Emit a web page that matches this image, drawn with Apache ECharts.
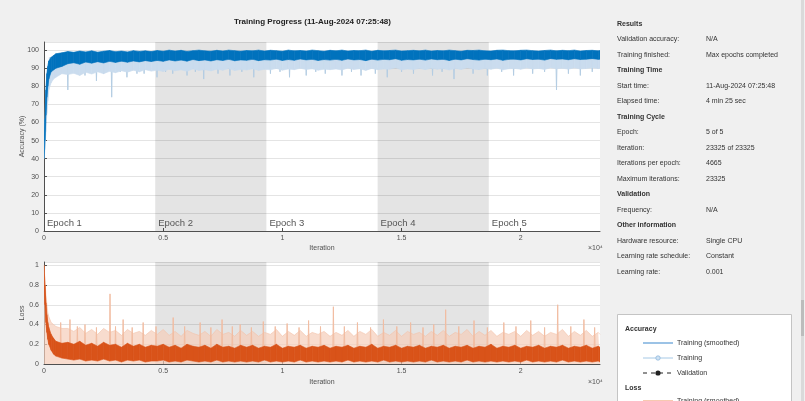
<!DOCTYPE html>
<html>
<head>
<meta charset="utf-8">
<script src="https://cdn.jsdelivr.net/npm/echarts@6/dist/echarts.min.js"></script>
<style>
  html, body { margin: 0; padding: 0; background: #f0f0f0; }
  #chart { width: 805px; height: 401px; }
</style>
</head>
<body>
<div id="chart"></div>
<script>
// ---- data ----
const maxIter = 23325
const epochStarts = [0, 4665, 9330, 13995, 18660]
const epochNames = ['Epoch 1', 'Epoch 2', 'Epoch 3', 'Epoch 4', 'Epoch 5']

// sample iterations: warm-up points, then every 250 iterations
const warmIter = [0, 40, 80, 120, 160, 200, 300, 400, 500, 750]

// accuracy (%): smoothed band (dark blue) and raw training lower envelope (light blue)
const accSmoothHi = [42, 62, 78, 87, 91, 94, 96, 97, 98, 98.5,
  99.2, 98.8, 99.5, 99.0, 99.6, 98.9, 99.4, 99.8, 99.1, 99.5, 99.0, 99.7, 99.3, 99.6, 99.2,
  99.8, 99.4, 100, 99.5, 99.9, 99.3, 99.7, 100, 99.6, 99.4, 99.9, 99.5, 100, 99.7, 99.4,
  99.8, 99.6, 100, 99.5, 99.9, 99.7, 99.4, 100, 99.6, 99.8, 99.5, 100, 99.7, 99.4, 99.9,
  99.6, 100, 99.5, 99.8, 99.7, 100, 99.4, 99.9, 99.6, 99.8, 100, 99.5, 99.7, 99.9, 99.6,
  100, 99.5, 99.8, 99.6, 100, 99.7, 99.4, 99.9, 99.8, 100, 99.6, 99.5, 99.9, 100, 99.7,
  99.6, 99.9, 100, 99.7, 99.5, 99.8, 100, 99.6, 99.9, 99.7, 100, 99.5, 99.8, 99.9, 99.6,
  99.8]
const accSmoothLo = [40, 50, 64, 74, 80, 84, 88, 89, 90, 91,
  92.5, 93.0, 92.2, 93.4, 92.8, 93.6, 92.9, 93.8, 93.2, 93.9, 93.3, 94.0, 93.5, 94.2, 93.7,
  94.3, 93.8, 94.6, 94.0, 94.5, 93.9, 94.8, 94.2, 94.6, 94.0, 94.7, 94.3, 94.9, 94.1, 94.6,
  94.4, 94.9, 94.2, 94.7, 94.5, 95.0, 94.3, 94.8, 94.4, 95.1, 94.6, 94.9, 94.3, 94.8, 94.5,
  94.9, 94.4, 95.1, 94.6, 94.8, 94.2, 95.0, 94.5, 94.9, 94.7, 95.2, 94.4, 94.8, 94.6, 95.0,
  94.5, 95.1, 94.7, 94.9, 94.3, 95.0, 94.6, 95.2, 94.8, 94.5, 95.0, 94.7, 95.1, 94.4, 94.9,
  95.0, 94.6, 95.2, 94.8, 95.0, 94.5, 95.3, 94.9, 95.1, 94.7, 95.2, 94.8, 95.0, 95.3, 94.9,
  95.0]
const accRawLo = [40, 45, 55, 65, 72, 78, 82, 84, 85, 87,
  86.5, 87.2, 86.0, 87.8, 86.8, 88.0, 87.0, 88.3, 87.5, 88.6, 87.8, 88.9, 88.0, 89.2, 88.4,
  88.9, 88.2, 89.4, 88.6, 89.1, 88.3, 89.6, 88.8, 89.2, 88.5, 89.5, 88.9, 89.8, 88.7, 89.3,
  89.0, 89.7, 88.8, 89.4, 89.1, 89.9, 88.9, 89.6, 89.2, 90.0, 89.3, 89.7, 88.9, 89.5, 89.2,
  89.6, 89.0, 90.1, 89.3, 89.7, 88.8, 89.9, 89.2, 89.6, 89.4, 90.2, 89.1, 89.6, 89.3, 89.9,
  89.2, 90.0, 89.4, 89.8, 89.0, 89.9, 89.3, 90.2, 89.6, 89.2, 89.9, 89.4, 90.1, 89.1, 89.7,
  89.9, 89.4, 90.2, 89.6, 89.9, 89.3, 90.3, 89.7, 90.0, 89.5, 90.2, 89.6, 89.9, 90.3, 89.8,
  90.0]
// downward streaks of the raw accuracy: [iteration, accuracy]
const accDips = [[250, 84], [600, 88], [1000, 78], [1400, 87], [1720, 86], [2200, 83], [2500, 87],
  [2840, 74], [3200, 88], [3480, 85], [3900, 87], [4200, 87], [4740, 85], [5100, 88], [5400, 87],
  [6000, 86], [6350, 88], [6700, 84], [7300, 87], [7800, 86], [8300, 88], [8800, 85], [9500, 87],
  [9900, 88], [10300, 85], [11000, 86], [11400, 88], [11800, 87], [12500, 86], [12900, 88],
  [13300, 86], [13900, 87], [14400, 85], [15000, 88], [15500, 87], [16300, 86], [16700, 88],
  [17200, 84], [18000, 87], [18600, 86], [19200, 88], [19700, 86], [20500, 87], [21000, 88],
  [21500, 78], [22000, 87], [22500, 86], [23000, 88]]

// loss: smoothed band (dark orange) and raw training upper envelope (light orange)
const lossSmoothHi = [1.0, 0.80, 0.62, 0.50, 0.42, 0.37, 0.30, 0.26, 0.23, 0.21,
  0.22, 0.20, 0.23, 0.19, 0.21, 0.18, 0.22, 0.19, 0.20, 0.17, 0.21, 0.18, 0.20, 0.17, 0.19,
  0.18, 0.20, 0.17, 0.19, 0.16, 0.20, 0.18, 0.17, 0.19, 0.16, 0.20, 0.17, 0.18, 0.16, 0.19,
  0.17, 0.19, 0.16, 0.18, 0.17, 0.20, 0.16, 0.18, 0.17, 0.19, 0.16, 0.18, 0.17, 0.19, 0.16,
  0.18, 0.17, 0.19, 0.16, 0.18, 0.17, 0.20, 0.16, 0.18, 0.17, 0.19, 0.16, 0.18, 0.17, 0.19,
  0.16, 0.18, 0.17, 0.19, 0.16, 0.18, 0.17, 0.19, 0.16, 0.18, 0.17, 0.20, 0.16, 0.18, 0.17,
  0.19, 0.16, 0.18, 0.17, 0.19, 0.16, 0.18, 0.17, 0.19, 0.16, 0.18, 0.17, 0.19, 0.16, 0.18,
  0.17]
const lossSmoothLo = [0.95, 0.60, 0.42, 0.32, 0.25, 0.20, 0.14, 0.10, 0.08, 0.06,
  0.05, 0.04, 0.05, 0.03, 0.04, 0.03, 0.05, 0.03, 0.04, 0.02, 0.04, 0.03, 0.04, 0.02, 0.03,
  0.03, 0.04, 0.02, 0.03, 0.02, 0.04, 0.03, 0.02, 0.03, 0.02, 0.04, 0.02, 0.03, 0.02, 0.03,
  0.02, 0.03, 0.02, 0.04, 0.02, 0.03, 0.02, 0.03, 0.02, 0.04, 0.02, 0.03, 0.02, 0.03, 0.02,
  0.03, 0.02, 0.04, 0.02, 0.03, 0.02, 0.03, 0.02, 0.04, 0.02, 0.03, 0.02, 0.03, 0.02, 0.03,
  0.02, 0.04, 0.02, 0.03, 0.02, 0.03, 0.02, 0.04, 0.02, 0.03, 0.02, 0.03, 0.02, 0.03, 0.02,
  0.03, 0.02, 0.04, 0.02, 0.03, 0.02, 0.03, 0.02, 0.04, 0.02, 0.03, 0.02, 0.03, 0.02, 0.03,
  0.02]
const lossRawHi = [1.0, 0.85, 0.70, 0.60, 0.52, 0.48, 0.42, 0.40, 0.38, 0.36,
  0.36, 0.33, 0.37, 0.31, 0.35, 0.30, 0.36, 0.32, 0.34, 0.29, 0.35, 0.31, 0.33, 0.29, 0.34,
  0.30, 0.35, 0.29, 0.33, 0.28, 0.34, 0.31, 0.29, 0.33, 0.28, 0.35, 0.30, 0.32, 0.28, 0.34,
  0.29, 0.33, 0.28, 0.32, 0.30, 0.35, 0.28, 0.33, 0.29, 0.34, 0.28, 0.32, 0.30, 0.33, 0.28,
  0.32, 0.29, 0.34, 0.28, 0.33, 0.30, 0.35, 0.28, 0.32, 0.29, 0.34, 0.28, 0.33, 0.30, 0.32,
  0.28, 0.33, 0.29, 0.34, 0.28, 0.32, 0.30, 0.35, 0.28, 0.33, 0.29, 0.34, 0.28, 0.32, 0.30,
  0.33, 0.28, 0.34, 0.29, 0.33, 0.28, 0.32, 0.30, 0.35, 0.28, 0.33, 0.29, 0.34, 0.28, 0.32,
  0.30]
// upward streaks of the raw loss: [iteration, loss]
const lossPeaks = [[700, 0.42], [1090, 0.45], [1400, 0.38], [1720, 0.40], [2200, 0.37], [2770, 0.71],
  [3000, 0.38], [3320, 0.45], [3700, 0.37], [4160, 0.42], [4700, 0.38], [5420, 0.47], [5900, 0.38],
  [6550, 0.42], [7000, 0.37], [7470, 0.45], [7900, 0.38], [8230, 0.40], [8700, 0.37], [9200, 0.43],
  [9700, 0.38], [10200, 0.41], [10700, 0.37], [11100, 0.44], [11600, 0.38], [12140, 0.58],
  [12600, 0.38], [13150, 0.42], [13700, 0.37], [14240, 0.45], [14800, 0.38], [15380, 0.42],
  [15900, 0.37], [16350, 0.40], [16850, 0.55], [17400, 0.38], [18040, 0.44], [18600, 0.37],
  [19290, 0.42], [19800, 0.38], [20420, 0.44], [21000, 0.37], [21550, 0.60], [22100, 0.38],
  [22650, 0.45], [23100, 0.37]]

const infoRows = [
  ['Results', null],
  ['Validation accuracy:', 'N/A'],
  ['Training finished:', 'Max epochs completed'],
  ['Training Time', null],
  ['Start time:', '11-Aug-2024 07:25:48'],
  ['Elapsed time:', '4 min 25 sec'],
  ['Training Cycle', null],
  ['Epoch:', '5 of 5'],
  ['Iteration:', '23325 of 23325'],
  ['Iterations per epoch:', '4665'],
  ['Maximum iterations:', '23325'],
  ['Validation', null],
  ['Frequency:', 'N/A'],
  ['Other information', null],
  ['Hardware resource:', 'Single CPU'],
  ['Learning rate schedule:', 'Constant'],
  ['Learning rate:', '0.001'],
]

// ---- build ----
const iters = warmIter.slice()
for (let it = 1000; it <= 23250; it += 250) iters.push(it)
iters.push(maxIter)

const pairs = (ys) => iters.map((x, i) => [x, ys[i]])

// one quad per pair of neighbouring samples: [x0, lo0, hi0, x1, lo1, hi1]
function bandData(lo, hi) {
  const out = []
  for (let i = 0; i < iters.length - 1; i++) {
    out.push([iters[i], lo[i], hi[i], iters[i + 1], lo[i + 1], hi[i + 1]])
  }
  return out
}

function streaks(list, base) {
  const out = []
  list.forEach(([x, v]) => { out.push([x - 25, base], [x, v], [x + 25, base]) })
  return out
}

const FONT = '"Liberation Sans", Arial, sans-serif'
const AX = '#505050'
const SHADE = 'rgba(0,0,0,0.105)'

function epochAreas(withLabels) {
  return epochStarts.map((s, i) => [
    {
      xAxis: s,
      name: epochNames[i],
      itemStyle: { color: i % 2 ? SHADE : 'rgba(0,0,0,0)' },
      label: withLabels
        ? { show: true, position: 'insideBottomLeft', distance: 3, color: '#555', fontSize: 9.5, fontFamily: FONT }
        : { show: false },
    },
    { xAxis: i < epochStarts.length - 1 ? epochStarts[i + 1] : maxIter },
  ])
}

function xAxisOf(grid, gap) {
  return {
    type: 'value', gridIndex: grid, min: 0, max: maxIter, interval: 5000,
    axisLine: { show: true, onZero: false, lineStyle: { color: AX, width: 1 } },
    axisTick: { show: true, inside: true, length: 3, lineStyle: { color: AX } },
    axisLabel: { fontSize: 7, color: AX, margin: 4, fontFamily: FONT, showMaxLabel: false,
      formatter: (v) => String(v / 10000) },
    splitLine: { show: false },
    name: 'Iteration', nameLocation: 'middle', nameGap: gap, nameMoveOverlap: false,
    nameTextStyle: { fontSize: 7, color: AX, fontFamily: FONT },
  }
}

function yAxisOf(grid, max, interval, name) {
  return {
    type: 'value', gridIndex: grid, min: 0, max: max, interval: interval,
    axisLine: { show: true, lineStyle: { color: AX, width: 1 } },
    axisTick: { show: true, inside: true, length: 3, lineStyle: { color: AX } },
    axisLabel: { fontSize: 7, color: AX, margin: 5, fontFamily: FONT, showMaxLabel: false },
    splitLine: { show: true, lineStyle: { color: '#e4e4e4', width: 1 } },
    name: name, nameLocation: 'middle', nameGap: 18, nameRotate: 90, nameMoveOverlap: false,
    nameTextStyle: { fontSize: 7, color: AX, fontFamily: FONT },
  }
}

function band(name, axis, lo, hi, color, z) {
  return {
    name, type: 'custom', xAxisIndex: axis, yAxisIndex: axis, z, silent: true, clip: true,
    encode: { x: [0, 3], y: [1, 2, 4, 5] },
    data: bandData(lo, hi),
    renderItem: (params, api) => {
      const a = api.coord([api.value(0), api.value(1)])
      const b = api.coord([api.value(3), api.value(4)])
      const c = api.coord([api.value(3), api.value(5)])
      const d = api.coord([api.value(0), api.value(2)])
      return {
        type: 'polygon',
        shape: { points: [a, b, c, d] },
        style: { fill: color, stroke: color, lineWidth: 0.6 },
      }
    },
  }
}

const series = [
  // accuracy
  {
    name: 'Training', type: 'line', xAxisIndex: 0, yAxisIndex: 0, z: 2,
    data: streaks(accDips, 96), symbol: 'none', silent: true,
    lineStyle: { color: '#b4cde3', width: 1 },
    markArea: { silent: true, data: epochAreas(true) },
  },
  band('accRaw', 0, accRawLo, accSmoothHi, '#cadcee', 3),
  band('Training (smoothed)', 0, accSmoothLo, accSmoothHi, '#0072BD', 4),
  // loss
  {
    name: 'lossRaw', type: 'line', xAxisIndex: 1, yAxisIndex: 1, z: 2,
    data: pairs(lossRawHi), symbol: 'none', silent: true,
    lineStyle: { color: '#f3c1a8', width: 0.6 },
    areaStyle: { color: '#f5cdb9', opacity: 0.7 },
    markArea: { silent: true, data: epochAreas(false) },
  },
  {
    name: 'lossPeaks', type: 'line', xAxisIndex: 1, yAxisIndex: 1, z: 2,
    data: streaks(lossPeaks, 0.1), symbol: 'none', silent: true,
    lineStyle: { color: '#f2bda2', width: 1 },
  },
  band('Loss (smoothed)', 1, lossSmoothLo, lossSmoothHi, '#D95319', 4),
]

// right-hand info panel and legend box
const graphics = []
infoRows.forEach(([label, value], i) => {
  const y = 24 + i * 15.5
  graphics.push({
    type: 'text', x: 617, y: y,
    style: { text: label, fontSize: 7, fontWeight: value === null ? 'bold' : 'normal',
      fill: '#333', fontFamily: FONT, verticalAlign: 'middle' },
  })
  if (value !== null) {
    graphics.push({
      type: 'text', x: 706, y: y,
      style: { text: value, fontSize: 7, fill: '#333', fontFamily: FONT, verticalAlign: 'middle' },
    })
  }
})

graphics.push(
  { type: 'rect', shape: { x: 801, y: 0, width: 3, height: 401 }, style: { fill: '#dadada' } },
  { type: 'rect', shape: { x: 801, y: 300, width: 3, height: 36 }, style: { fill: '#bcbcbc' } },
  { type: 'rect', shape: { x: 617.5, y: 314.5, width: 174, height: 100 },
    style: { fill: '#fff', stroke: '#c4c4c4', lineWidth: 1 } },
  { type: 'text', x: 625, y: 329, style: { text: 'Accuracy', fontSize: 7, fontWeight: 'bold', fill: '#333', fontFamily: FONT, verticalAlign: 'middle' } },
  { type: 'line', shape: { x1: 643, y1: 343, x2: 673, y2: 343 }, style: { stroke: '#5b9bd5', lineWidth: 1.2 } },
  { type: 'text', x: 677, y: 343, style: { text: 'Training (smoothed)', fontSize: 7, fill: '#333', fontFamily: FONT, verticalAlign: 'middle' } },
  { type: 'line', shape: { x1: 643, y1: 358, x2: 673, y2: 358 }, style: { stroke: '#a6c9e6', lineWidth: 1 } },
  { type: 'circle', shape: { cx: 658, cy: 358, r: 2.2 }, style: { fill: '#cfe2f3', stroke: '#8fb7dc', lineWidth: 0.8 } },
  { type: 'text', x: 677, y: 358, style: { text: 'Training', fontSize: 7, fill: '#333', fontFamily: FONT, verticalAlign: 'middle' } },
  { type: 'line', shape: { x1: 643, y1: 373, x2: 673, y2: 373 }, style: { stroke: '#222', lineWidth: 1, lineDash: [4, 4] } },
  { type: 'circle', shape: { cx: 658, cy: 373, r: 2.6 }, style: { fill: '#222' } },
  { type: 'text', x: 677, y: 373, style: { text: 'Validation', fontSize: 7, fill: '#333', fontFamily: FONT, verticalAlign: 'middle' } },
  { type: 'text', x: 625, y: 388, style: { text: 'Loss', fontSize: 7, fontWeight: 'bold', fill: '#333', fontFamily: FONT, verticalAlign: 'middle' } },
  { type: 'line', shape: { x1: 643, y1: 401, x2: 673, y2: 401 }, style: { stroke: '#f2a57c', lineWidth: 1.2 } },
  { type: 'text', x: 677, y: 401, style: { text: 'Training (smoothed)', fontSize: 7, fill: '#333', fontFamily: FONT, verticalAlign: 'middle' } },
  { type: 'text', x: 588, y: 248, style: { text: '×10⁴', fontSize: 7, fill: AX, fontFamily: FONT, verticalAlign: 'middle' } },
  { type: 'text', x: 588, y: 382, style: { text: '×10⁴', fontSize: 7, fill: AX, fontFamily: FONT, verticalAlign: 'middle' } },
)

const chart = echarts.init(document.getElementById('chart'), null, { renderer: 'canvas' })
chart.setOption({
  backgroundColor: '#f0f0f0',
  animation: false,
  title: {
    text: 'Training Progress (11-Aug-2024 07:25:48)',
    left: 229, top: 13,
    textStyle: { fontSize: 8, fontWeight: 'bold', color: '#222', fontFamily: FONT },
  },
  grid: [
    { left: 44, top: 42, width: 556, height: 189, show: true, backgroundColor: '#fff', borderWidth: 0, outerBoundsMode: 'none' },
    { left: 44, top: 262, width: 556, height: 102, show: true, backgroundColor: '#fff', borderWidth: 0, outerBoundsMode: 'none' },
  ],
  xAxis: [xAxisOf(0, 14), xAxisOf(1, 15)],
  yAxis: [yAxisOf(0, 104.5, 10, 'Accuracy (%)'), yAxisOf(1, 1.033, 0.2, 'Loss')],
  series,
  graphic: graphics,
})
</script>
</body>
</html>
